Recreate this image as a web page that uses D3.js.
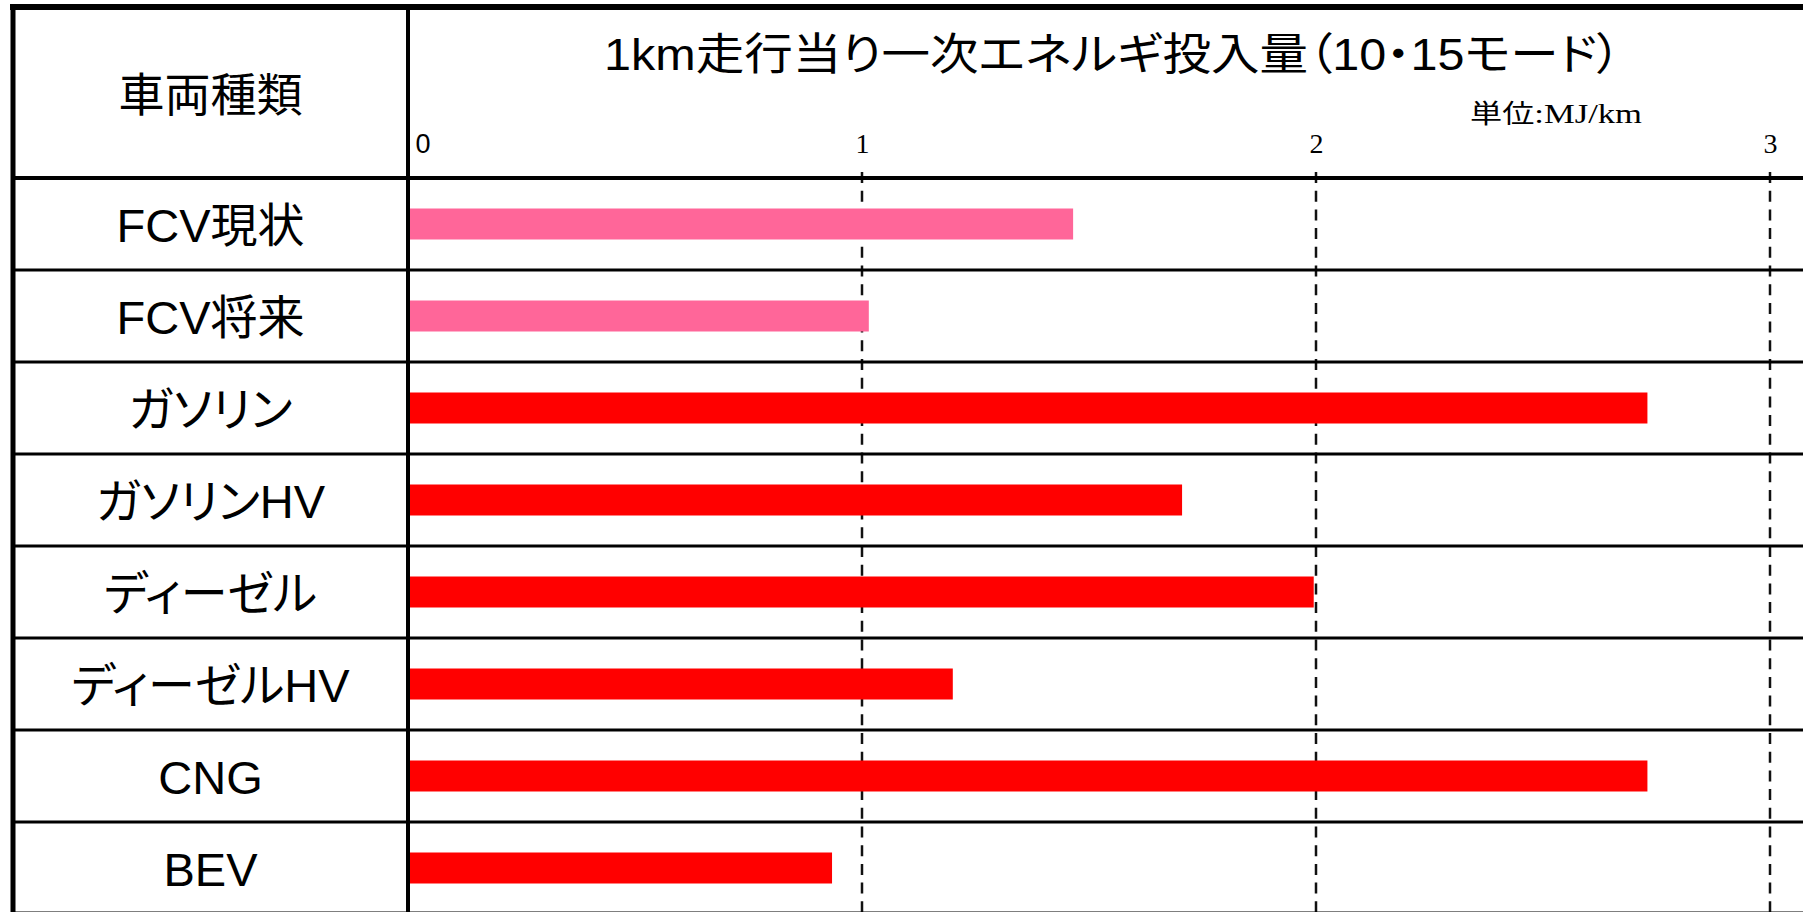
<!DOCTYPE html>
<html>
<head>
<meta charset="utf-8">
<script src="https://cdn.jsdelivr.net/npm/d3@7"></script>
<style>
body { margin: 0; background: #fff; }
svg { display: block; }
</style>
</head>
<body>
<svg id="chart"></svg>
<script>
// data
const vehicleTypes = ["FCV現状", "FCV将来", "ガソリン", "ガソリンHV", "ディーゼル", "ディーゼルHV", "CNG", "BEV"];
const energyValues = [1.465, 1.015, 2.73, 1.705, 1.995, 1.20, 2.73, 0.934];
const fuelKind = ["FCV", "FCV", "other", "other", "other", "other", "other", "other"];
const tickValues = [0, 1, 2, 3];
const headerLabel = "車両種類";
const titleText = "1km走行当り一次エネルギ投入量（10・15モード）";
const unitLabel = ["単位", ":MJ/km"];

const W = 1803, H = 912;
const leftX = 13, divX = 408, topY = 7, headY = 178, rowH = 92;
const sans = "'Liberation Sans', 'Noto Sans CJK JP', sans-serif";

const svg = d3.select("#chart").attr("width", W).attr("height", H);

const x = d3.scaleLinear().domain([0, 3]).range([divX, 1770]);
const y = d3.scaleBand().domain(vehicleTypes).range([headY, headY + rowH * vehicleTypes.length]);
const colour = d3.scaleOrdinal().domain(["FCV", "other"]).range(["#ff6699", "#ff0000"]);

// dashed gridlines
svg.selectAll(".grid").data(tickValues.filter(d => d > 0)).enter().append("line")
	.attr("x1", d => x(d)).attr("x2", d => x(d))
	.attr("y1", headY - 6).attr("y2", H)
	.attr("stroke", "#111").attr("stroke-width", 2.5)
	.attr("stroke-dasharray", "11,7.7");

// bars
const barH = 31;
svg.selectAll(".bar").data(vehicleTypes).enter().append("rect")
	.attr("x", x(0))
	.attr("y", d => y(d) + (y.bandwidth() - barH) / 2)
	.attr("width", (d, i) => x(energyValues[i]) - x(0))
	.attr("height", barH)
	.attr("fill", (d, i) => colour(fuelKind[i]));

// table lines
const rowLines = vehicleTypes.slice(1).map(d => y(d));
svg.selectAll(".row").data(rowLines).enter().append("line")
	.attr("x1", leftX).attr("x2", W)
	.attr("y1", d => d).attr("y2", d => d)
	.attr("stroke", "#000").attr("stroke-width", 3);

svg.append("line").attr("x1", leftX).attr("x2", W).attr("y1", headY).attr("y2", headY)
	.attr("stroke", "#000").attr("stroke-width", 4);
svg.append("line").attr("x1", leftX).attr("x2", W).attr("y1", y.range()[1] - 1).attr("y2", y.range()[1] - 1)
	.attr("stroke", "#000").attr("stroke-width", 3);
svg.append("line").attr("x1", divX).attr("x2", divX).attr("y1", topY).attr("y2", H)
	.attr("stroke", "#000").attr("stroke-width", 4);
svg.append("line").attr("x1", leftX - 3).attr("x2", W).attr("y1", topY).attr("y2", topY)
	.attr("stroke", "#000").attr("stroke-width", 6);
svg.append("line").attr("x1", leftX).attr("x2", leftX).attr("y1", topY).attr("y2", H)
	.attr("stroke", "#000").attr("stroke-width", 5);

// row labels
svg.selectAll(".label").data(vehicleTypes).enter().append("text")
	.attr("x", (leftX + divX) / 2)
	.attr("y", d => y(d) + 64)
	.attr("text-anchor", "middle")
	.style("font-family", sans).style("font-size", "47px")
	.style("font-feature-settings", '"palt" 1')
	.text(d => d);

svg.append("text")
	.attr("x", (leftX + divX) / 2).attr("y", 111)
	.attr("text-anchor", "middle")
	.style("font-family", sans).style("font-size", "46px")
	.text(headerLabel);

// title
svg.append("text")
	.attr("x", 604).attr("y", 70)
	.style("font-family", sans).style("font-size", "44px")
	.style("font-feature-settings", '"palt" 1')
	.attr("textLength", 1017).attr("lengthAdjust", "spacingAndGlyphs")
	.text(titleText);

// unit
const unit = svg.append("text").attr("x", 1470).attr("y", 123)
	.attr("textLength", 172).attr("lengthAdjust", "spacingAndGlyphs");
unit.append("tspan").style("font-family", "'Noto Sans CJK JP'").style("font-size", "26px").text(unitLabel[0]);
unit.append("tspan").style("font-family", "'Liberation Serif', serif").style("font-size", "28px").text(unitLabel[1]);

// axis tick labels
const axis = d3.axisTop(x).tickValues(tickValues).tickSize(0).tickPadding(0).tickFormat(d3.format("d"));
const gAxis = svg.append("g").attr("transform", "translate(0,153)").call(axis);
gAxis.select(".domain").remove();
gAxis.selectAll("text")
	.attr("dy", "0em")
	.style("font-family", "'Liberation Serif', serif").style("font-size", "28px")
	.attr("fill", "#000");
gAxis.selectAll("text").filter(d => d === 0)
	.attr("text-anchor", "start").attr("x", 7)
	.style("font-family", "'Liberation Sans', sans-serif").style("font-size", "27px")
	.style("font-weight", "300");
</script>
</body>
</html>
